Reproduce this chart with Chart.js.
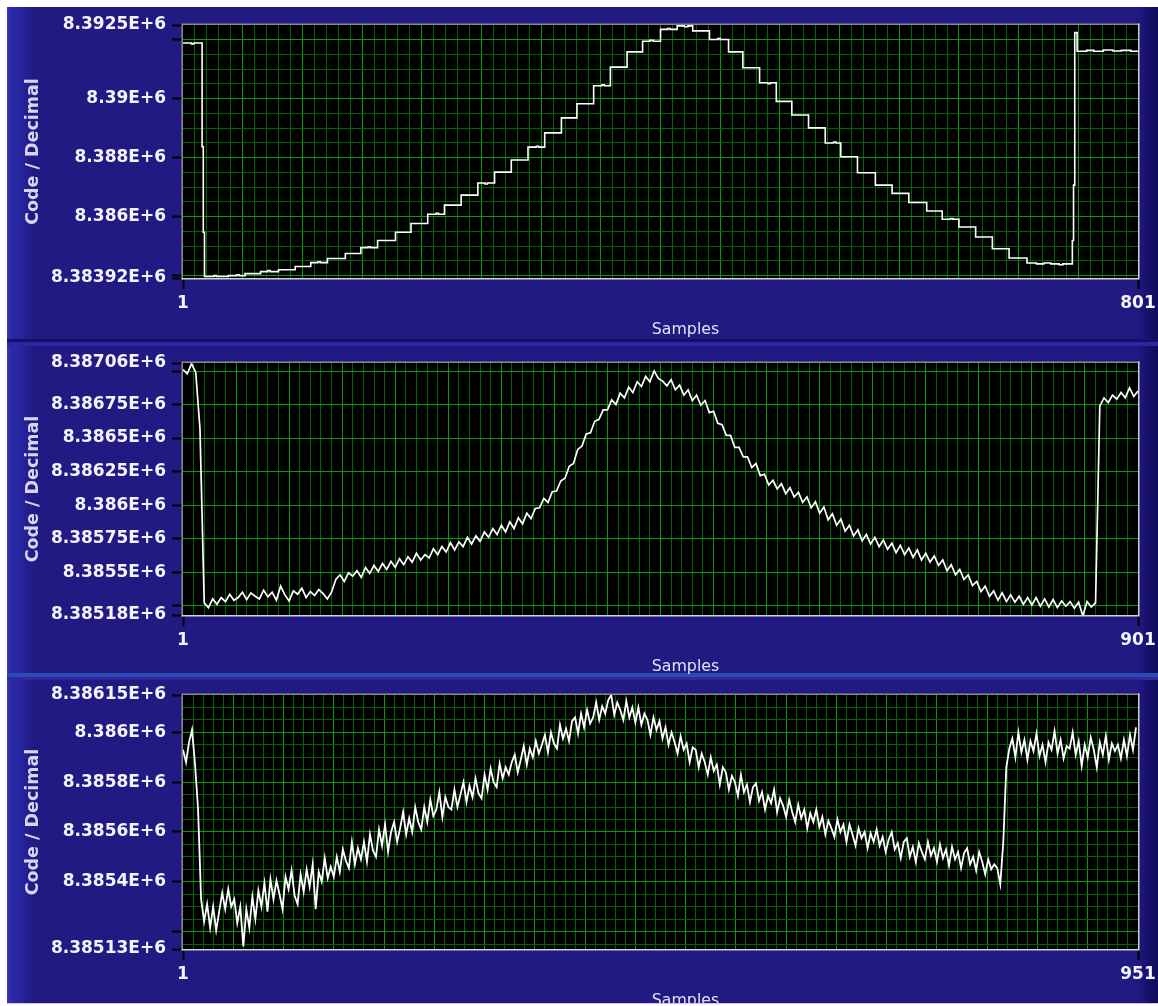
<!DOCTYPE html>
<html>
<head>
<meta charset="utf-8">
<title>ADC code captures</title>
<script src="https://cdn.jsdelivr.net/npm/chart.js@4.4.1/dist/chart.umd.min.js"></script>
<style>
  html, body { margin: 0; padding: 0; background: #ffffff; }
  body { width: 1158px; height: 1006px; position: relative; overflow: hidden; }
  .frame { position: absolute; left: 7px; top: 7px; width: 1151px; height: 996px; background: #211a83; }
  .edge-l { position: absolute; left: 7px; top: 7px; width: 26px; height: 996px;
    background: linear-gradient(to right, #3b3bb6 0, #2d2ba6 3px, #2824a0 14px, #231c8e 22px, #211a83 26px); }
  .edge-r { position: absolute; left: 1136px; top: 7px; width: 22px; height: 996px;
    background: linear-gradient(to right, #211a83 0, #1d1679 6px, #17106a 13px, #110b5c 22px); }
  .band { position: absolute; left: 7px; width: 1151px; }
  .panel { position: absolute; left: 0; width: 1158px; overflow: hidden; }
  canvas { display: block; }
</style>
</head>
<body>
<div class="frame"></div>
<div class="edge-l"></div>
<div class="edge-r"></div>
<div class="band" style="top:339px;height:3px;background:#150f68"></div>
<div class="band" style="top:342px;height:4px;background:#2a27a0"></div>
<div class="band" style="top:673px;height:4px;background:#2b4cb4"></div>
<div class="band" style="top:677px;height:3px;background:#33279c"></div>
<div class="band" style="top:1003px;height:1px;background:#c8c8e0"></div>

<div class="panel" style="top:7px;height:333px"><canvas id="capA" width="1158" height="333"></canvas></div>
<div class="panel" style="top:343px;height:331px"><canvas id="capB" width="1158" height="331"></canvas></div>
<div class="panel" style="top:678px;height:325px"><canvas id="capC" width="1158" height="340"></canvas></div>

<script>
// ---------- Capture A: stepped ramp, 801 samples (level changes only) ----------
const samplesA = [
  1, 8, 10, 17, 18, 19, 27, 29, 39, 46, 48, 53, 66, 72, 74, 81, 95, 108, 114, 116,
  122, 137, 150, 156, 158, 164, 179, 192, 206, 213, 215, 220, 234, 248, 254, 256, 262, 276, 290, 297,
  299, 304, 318, 331, 345, 352, 354, 359, 373, 386, 392, 395, 401, 407, 409, 415, 421, 424, 428, 442,
  449, 451, 458, 470, 484, 491, 493, 498, 511, 525, 539, 546, 548, 552, 566, 581, 595, 609, 624, 637,
  644, 646, 651, 665, 679, 693, 708, 716, 722, 728, 735, 738, 746, 747, 748, 750, 758, 764, 772, 780,
  787, 795, 801
];
const codesA = [
  8391890, 8391860, 8391890, 8388370, 8385470, 8383970, 8384000, 8383970, 8384000, 8384030, 8384000, 8384070, 8384135, 8384170, 8384135, 8384200, 8384310, 8384440, 8384470, 8384440,
  8384580, 8384750, 8384950, 8384980, 8384950, 8385190, 8385470, 8385770, 8386080, 8386110, 8386080, 8386390, 8386730, 8387140, 8387110, 8387140, 8387510, 8387920, 8388360, 8388390,
  8388360, 8388840, 8389350, 8389830, 8390440, 8390470, 8390440, 8391070, 8391590, 8391950, 8391980, 8391950, 8392350, 8392380, 8392350, 8392470, 8392440, 8392470, 8392300, 8392010,
  8392040, 8392010, 8391590, 8391050, 8390540, 8390510, 8390540, 8389910, 8389450, 8389010, 8388500, 8388530, 8388500, 8388030, 8387490, 8387070, 8386790, 8386480, 8386190, 8385910,
  8385940, 8385910, 8385650, 8385310, 8384910, 8384600, 8384430, 8384400, 8384430, 8384400, 8384370, 8384400, 8385190, 8387070, 8392240, 8391610, 8391640, 8391610, 8391650, 8391620,
  8391640, 8391610, 8391630
];
const yTicksA = [8383920, 8386000, 8388000, 8390000, 8392500];
const yLabelsA = ['8.38392E+6', '8.386E+6', '8.388E+6', '8.39E+6', '8.3925E+6'];

// ---------- Capture B: 901 samples, one reading every 4 samples ----------
const strideB = 4;
const codesB = [
  8387010, 8386980, 8387055, 8386990, 8386570, 8385270, 8385235, 8385300, 8385260, 8385310,
  8385280, 8385335, 8385290, 8385310, 8385350, 8385295, 8385345, 8385320, 8385300, 8385365,
  8385315, 8385350, 8385290, 8385395, 8385330, 8385285, 8385360, 8385335, 8385380, 8385310,
  8385355, 8385325, 8385370, 8385340, 8385300, 8385350, 8385445, 8385480, 8385430, 8385495,
  8385470, 8385510, 8385460, 8385535, 8385490, 8385550, 8385505, 8385565, 8385520, 8385580,
  8385535, 8385600, 8385555, 8385615, 8385575, 8385640, 8385590, 8385630, 8385605, 8385675,
  8385630, 8385690, 8385650, 8385720, 8385665, 8385725, 8385690, 8385760, 8385710, 8385770,
  8385730, 8385800, 8385760, 8385825, 8385780, 8385850, 8385800, 8385875, 8385825, 8385905,
  8385860, 8385940, 8385900, 8385975, 8385980, 8386050, 8386020, 8386100, 8386105, 8386180,
  8386200, 8386290, 8386310, 8386415, 8386440, 8386530, 8386540, 8386625, 8386640, 8386710,
  8386710, 8386785, 8386750, 8386835, 8386800, 8386880, 8386840, 8386920, 8386885, 8386960,
  8386920, 8387000, 8386945, 8386925, 8386890, 8386935, 8386860, 8386895, 8386820, 8386860,
  8386780, 8386820, 8386745, 8386780, 8386690, 8386700, 8386610, 8386600, 8386520, 8386520,
  8386430, 8386430, 8386360, 8386360, 8386280, 8386310, 8386220, 8386230, 8386150, 8386185,
  8386120, 8386160, 8386085, 8386130, 8386060, 8386095, 8386020, 8386060, 8385980, 8386025,
  8385940, 8385985, 8385890, 8385935, 8385850, 8385895, 8385805, 8385850, 8385770, 8385815,
  8385735, 8385780, 8385710, 8385760, 8385690, 8385740, 8385670, 8385715, 8385645, 8385700,
  8385630, 8385680, 8385610, 8385665, 8385590, 8385640, 8385575, 8385620, 8385550, 8385590,
  8385510, 8385555, 8385480, 8385520, 8385445, 8385480, 8385400, 8385430, 8385355, 8385395,
  8385320, 8385360, 8385290, 8385345, 8385280, 8385330, 8385275, 8385320, 8385260, 8385310,
  8385255, 8385310, 8385245, 8385300, 8385240, 8385295, 8385235, 8385285, 8385245, 8385280,
  8385230, 8385275, 8385175, 8385280, 8385240, 8385270, 8386740, 8386800, 8386765, 8386820,
  8386790, 8386840, 8386800, 8386875, 8386810, 8386850
];
const yTicksB = [8385180, 8385500, 8385750, 8386000, 8386250, 8386500, 8386750, 8387060];
const yLabelsB = ['8.38518E+6', '8.3855E+6', '8.38575E+6', '8.386E+6', '8.38625E+6', '8.3865E+6', '8.38675E+6', '8.38706E+6'];

// ---------- Capture C: 951 samples, one reading every 3 samples ----------
const strideC = 3;
const codesC = [
  8385930, 8385880, 8385960, 8386010, 8385870, 8385690, 8385330, 8385240, 8385310, 8385215,
  8385300, 8385205, 8385280, 8385355, 8385290, 8385370, 8385300, 8385330, 8385235, 8385300,
  8385140, 8385290, 8385215, 8385340, 8385250, 8385365, 8385300, 8385395, 8385280, 8385410,
  8385330, 8385405, 8385350, 8385290, 8385420, 8385370, 8385445, 8385345, 8385310, 8385430,
  8385360, 8385450, 8385380, 8385470, 8385290, 8385440, 8385400, 8385495, 8385415, 8385460,
  8385420, 8385500, 8385440, 8385530, 8385485, 8385455, 8385560, 8385470, 8385535, 8385490,
  8385560, 8385480, 8385590, 8385525, 8385500, 8385610, 8385545, 8385630, 8385520, 8385600,
  8385640, 8385560, 8385615, 8385680, 8385590, 8385655, 8385600, 8385700, 8385640, 8385610,
  8385700, 8385640, 8385730, 8385665, 8385690, 8385760, 8385660, 8385740, 8385700, 8385690,
  8385770, 8385700, 8385750, 8385800, 8385720, 8385785, 8385740, 8385815, 8385755, 8385735,
  8385830, 8385770, 8385855, 8385800, 8385780, 8385875, 8385815, 8385860, 8385830, 8385880,
  8385910, 8385840, 8385890, 8385945, 8385870, 8385935, 8385900, 8385965, 8385915, 8385950,
  8385990, 8385920, 8386000, 8385955, 8385935, 8386030, 8385975, 8386015, 8385965, 8386045,
  8386060, 8385995, 8386075, 8386020, 8386090, 8386035, 8386060, 8386120, 8386050, 8386105,
  8386075, 8386130, 8386150, 8386070, 8386120, 8386090, 8386050, 8386125, 8386060, 8386100,
  8386040, 8386100, 8386030, 8386075, 8386050, 8385990, 8386060, 8386010, 8386045, 8385975,
  8386020, 8385950, 8386000, 8385960, 8385915, 8385985, 8385930, 8385955, 8385880, 8385940,
  8385930, 8385860, 8385915, 8385880, 8385830, 8385900, 8385845, 8385870, 8385790, 8385860,
  8385840, 8385770, 8385825, 8385800, 8385745, 8385830, 8385760, 8385790, 8385720, 8385780,
  8385795, 8385725, 8385760, 8385690, 8385745, 8385715, 8385770, 8385680, 8385735, 8385705,
  8385660, 8385730, 8385680, 8385640, 8385710, 8385655, 8385690, 8385615, 8385675, 8385640,
  8385690, 8385620, 8385660, 8385590, 8385645, 8385615, 8385580, 8385650, 8385600, 8385630,
  8385560, 8385630, 8385590, 8385545, 8385615, 8385575, 8385600, 8385535, 8385595, 8385560,
  8385610, 8385545, 8385580, 8385520, 8385570, 8385600, 8385530, 8385555, 8385495, 8385560,
  8385575, 8385500, 8385540, 8385480, 8385555, 8385520, 8385490, 8385560, 8385505, 8385535,
  8385480, 8385550, 8385495, 8385530, 8385465, 8385540, 8385490, 8385520, 8385455, 8385515,
  8385535, 8385470, 8385500, 8385445, 8385520, 8385480, 8385430, 8385490, 8385450, 8385470,
  8385455, 8385390, 8385560, 8385860, 8385935, 8385975, 8385900, 8386000, 8385920, 8385970,
  8385890, 8385965, 8385925, 8385995, 8385905, 8385950, 8385880, 8385960, 8385930, 8386005,
  8385915, 8385970, 8385895, 8385945, 8385935, 8386000, 8385910, 8385965, 8385865, 8385950,
  8385900, 8385980, 8385930, 8385860, 8385960, 8385910, 8385985, 8385890, 8385955, 8385925,
  8385950, 8385895, 8385970, 8385905, 8385990, 8385930, 8386020
];
const yTicksC = [8385130, 8385400, 8385600, 8385800, 8386000, 8386150];
const yLabelsC = ['8.38513E+6', '8.3854E+6', '8.3856E+6', '8.3858E+6', '8.386E+6', '8.38615E+6'];

const samplesB = codesB.map((_, i) => 1 + i * strideB);
const samplesC = codesC.map((_, i) => 1 + i * strideC);

// ---------- drawing ----------
const GRID_MAJOR = '#00a000';
const GRID_MINOR = '#006400';
const NONE = 'rgba(0,0,0,0)';
const labelFont = { family: '"DejaVu Sans", sans-serif', size: 17, weight: 'bold' };

// black plot field and bevelled frame around it
const plotFrame = {
  id: 'plotFrame',
  beforeDraw(chart) {
    const { ctx, chartArea: a } = chart;
    ctx.save();
    ctx.fillStyle = '#000000';
    ctx.fillRect(a.left, a.top, a.right - a.left, a.bottom - a.top);
    ctx.restore();
  },
  beforeDatasetsDraw(chart) {
    const { ctx, chartArea: a } = chart;
    ctx.save();
    ctx.lineWidth = 1.5;
    ctx.strokeStyle = '#8c8c8c';
    ctx.beginPath();
    ctx.moveTo(a.left - 0.75, a.bottom + 1.5);
    ctx.lineTo(a.left - 0.75, a.top - 0.75);
    ctx.lineTo(a.right + 1.5, a.top - 0.75);
    ctx.stroke();
    ctx.strokeStyle = '#d2d2d2';
    ctx.beginPath();
    ctx.moveTo(a.left - 1.5, a.bottom + 0.75);
    ctx.lineTo(a.right + 0.75, a.bottom + 0.75);
    ctx.lineTo(a.right + 0.75, a.top - 1.5);
    ctx.stroke();
    ctx.restore();
  }
};

// x-axis caption, set a little right of the plot centre
const axisCaption = {
  id: 'axisCaption',
  afterDraw(chart, args, opts) {
    const { ctx, chartArea: a } = chart;
    ctx.save();
    ctx.font = '15.8px "DejaVu Sans", sans-serif';
    ctx.fillStyle = '#e2e2f6';
    ctx.textAlign = 'center';
    ctx.textBaseline = 'alphabetic';
    ctx.fillText(opts.text, (a.left + a.right) / 2 + opts.shift, a.bottom + opts.gap);
    ctx.restore();
  }
};

function drawCapture(p) {
  const labelOf = new Map(p.yTicks.map((v, i) => [v, p.yLabels[i]]));
  const isEdgeY = v => v === p.yMin || v === p.yMax;
  const isEdgeX = v => v === 1 || v === p.xMax;

  new Chart(document.getElementById(p.canvas), {
    type: 'line',
    data: {
      datasets: [{
        data: p.samples.map((s, i) => ({ x: s, y: p.codes[i] })),
        borderColor: '#ffffff',
        borderWidth: p.lineWidth,
        pointRadius: 0,
        fill: false,
        tension: 0,
        stepped: p.stepped || false
      }]
    },
    options: {
      responsive: false,
      animation: false,
      events: [],
      layout: { padding: { left: 7, right: 20, top: p.top, bottom: 0 } },
      plugins: {
        legend: { display: false },
        tooltip: { enabled: false },
        axisCaption: { text: 'Samples', shift: 25, gap: 56 }
      },
      scales: {
        x: {
          type: 'linear',
          min: 1,
          max: p.xMax,
          afterBuildTicks: sc => {
            const t = [];
            for (let v = 1; v <= p.xMax; v += 10) t.push({ value: v });
            sc.ticks = t;
          },
          afterFit: sc => { sc.height = p.xHeight; sc.paddingLeft = 0; sc.paddingRight = 0; },
          border: { display: false },
          grid: {
            lineWidth: 1,
            tickLength: 11,
            tickWidth: 2,
            color: c => isEdgeX(c.tick.value) ? NONE : ((c.tick.value - 1) % 50 === 0 ? GRID_MAJOR : GRID_MINOR),
            tickColor: c => isEdgeX(c.tick.value) ? '#000000' : NONE
          },
          ticks: {
            autoSkip: false,
            maxRotation: 0,
            minRotation: 0,
            padding: 4,
            color: '#f4f4ff',
            font: labelFont,
            callback: v => isEdgeX(v) ? String(v) : ''
          }
        },
        y: {
          type: 'linear',
          min: p.yMin,
          max: p.yMax,
          afterBuildTicks: sc => {
            const vals = new Set([p.yMin, p.yMax, ...p.yTicks]);
            for (let v = Math.ceil(p.yMin / p.yMinor) * p.yMinor; v < p.yMax; v += p.yMinor) {
              if (v > p.yMin) vals.add(v);
            }
            sc.ticks = [...vals].sort((a, b) => a - b).map(v => ({ value: v }));
          },
          afterFit: sc => { sc.width = 176; sc.paddingTop = 0; sc.paddingBottom = 0; },
          border: { display: false },
          grid: {
            lineWidth: 1,
            tickLength: 11,
            tickWidth: 2,
            color: c => isEdgeY(c.tick.value) ? NONE : (c.tick.value % p.yMajor === 0 ? GRID_MAJOR : GRID_MINOR),
            tickColor: c => (labelOf.has(c.tick.value) || c.tick.value % p.yMajor === 0) ? '#000000' : NONE
          },
          ticks: {
            autoSkip: false,
            padding: 6,
            color: '#f4f4ff',
            font: labelFont,
            callback: v => labelOf.get(v) ?? ''
          },
          title: {
            display: true,
            text: 'Code / Decimal',
            color: '#d6d6f0',
            font: { family: '"DejaVu Sans", sans-serif', size: 17.5, weight: 'bold' },
            padding: { top: 15.5, bottom: 0 }
          }
        }
      }
    },
    plugins: [plotFrame, axisCaption]
  });
}

drawCapture({
  canvas: 'capA', samples: samplesA, codes: codesA, stepped: 'before', lineWidth: 1.6,
  xMax: 801, yMin: 8383920, yMax: 8392500, yMajor: 2000, yMinor: 500,
  yTicks: yTicksA, yLabels: yLabelsA, top: 18, xHeight: 62
});
drawCapture({
  canvas: 'capB', samples: samplesB, codes: codesB, lineWidth: 1.7,
  xMax: 901, yMin: 8385180, yMax: 8387060, yMajor: 250, yMinor: 250,
  yTicks: yTicksB, yLabels: yLabelsB, top: 20, xHeight: 59
});
drawCapture({
  canvas: 'capC', samples: samplesC, codes: codesC, lineWidth: 1.8,
  xMax: 951, yMin: 8385130, yMax: 8386150, yMajor: 200, yMinor: 50,
  yTicks: yTicksC, yLabels: yLabelsC, top: 17, xHeight: 69
});
</script>
</body>
</html>
